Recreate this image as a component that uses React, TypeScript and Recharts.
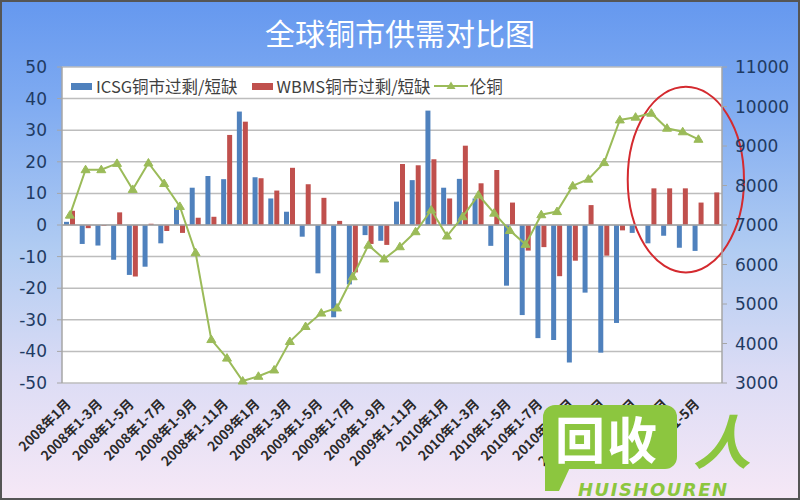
import React from "react";
import {
  ComposedChart,
  Bar,
  Line,
  XAxis,
  YAxis,
  CartesianGrid,
  ReferenceLine,
  ReferenceArea,
} from "recharts";

const categories = [
  "2008年1月", "2008年1-2月", "2008年1-3月", "2008年1-4月", "2008年1-5月", "2008年1-6月",
  "2008年1-7月", "2008年1-8月", "2008年1-9月", "2008年1-10月", "2008年1-11月", "2008年1-12月",
  "2009年1月", "2009年1-2月", "2009年1-3月", "2009年1-4月", "2009年1-5月", "2009年1-6月",
  "2009年1-7月", "2009年1-8月", "2009年1-9月", "2009年1-10月", "2009年1-11月", "2009年1-12月",
  "2010年1月", "2010年1-2月", "2010年1-3月", "2010年1-4月", "2010年1-5月", "2010年1-6月",
  "2010年1-7月", "2010年1-8月", "2010年1-9月", "2010年1-10月", "2010年1-11月", "2010年1-12月",
  "2011年1月", "2011年1-2月", "2011年1-3月", "2011年1-4月", "2011年1-5月", "2011年1-6月",
];

// ICSG 铜市过剩/短缺 (万吨)
const icsg = [
  1, -6, -6.5, -11, -15.8, -13.2, -5.8, 5.5, 11.8, 15.5, 14.5, 35.9,
  15.1, 8.4, 4.2, -3.7, -15.3, -29.2, -18.8, -3.2, -5, 7.4, 14.2, 36.2,
  11.8, 14.6, 8.4, -6.6, -19.2, -28.5, -35.8, -36.4, -43.5, -21.4, -40.4, -31,
  -2.5, -5.8, -3.4, -7.2, -8.2, null,
];

// WBMS 铜市过剩/短缺 (万吨)
const wbms = [
  4.5, -1, -0.3, 4, -16.3, 0.4, -1.9, -2.5, 2.3, 2.6, 28.5, 32.7,
  14.8, 10.9, 18.1, 12.9, 8.6, 1.3, -15, -6, -6.3, 19.3, 18.9, 20.8,
  8.4, 25.1, 13.2, 17.4, 7.1, -8.1, -7, -16.2, -11.3, 6.3, -9.7, -1.7,
  null, 11.6, 11.6, 11.6, 7.1, 10.3,
];

// 伦铜 (美元/吨)
const lme = [
  7250, 8400, 8400, 8560, 7900, 8570, 8050, 7470, 6300, 4100, 3630, 3050,
  3170, 3330, 4050, 4430, 4770, 4900, 5690, 6490, 6140, 6450, 6830, 7380,
  6720, 7210, 7760, 7300, 6860, 6510, 7260, 7340, 7990, 8160, 8580, 9660,
  9730, 9830, 9450, 9360, 9170, null,
];

const leftTicks = [-50, -40, -30, -20, -10, 0, 10, 20, 30, 40, 50];
const rightTicks = [3000, 4000, 5000, 6000, 7000, 8000, 9000, 10000, 11000];

const data = categories.map((cat, i) => ({
  cat,
  icsg: icsg[i],
  wbms: wbms[i],
  lme: lme[i],
}));

const BLUE = "#4f81bd";
const RED = "#c0504d";
const GREEN = "#9bbb59";
const LOGO_GREEN = "#8cc63f";
const AXIS_TEXT = "#1f3b63";
const CJK = "'Noto Sans CJK SC', 'Noto Sans', sans-serif";

const XTick = (props: any) => {
  const { x, payload } = props;
  return (
    <g transform={`translate(${x + 2},${405})`}>
      <text
        textAnchor="end"
        transform="rotate(-45)"
        fontSize={13.5}
        fontWeight="bold"
        fill="#2a2a2a"
        fontFamily={CJK}
      >
        {payload.value}
      </text>
    </g>
  );
};

const Triangle = (props: any) => {
  const { cx, cy, index } = props;
  if (cx == null || cy == null) return <g key={index} />;
  return (
    <path
      key={index}
      d={`M${cx},${cy - 4.5} L${cx + 4.5},${cy + 3} L${cx - 4.5},${cy + 3} Z`}
      fill={GREEN}
      stroke={GREEN}
    />
  );
};

const Ellipse = (props: any) => {
  const { x, y, width, height } = props;
  const w = width + 22;
  return (
    <ellipse
      cx={x + w / 2}
      cy={y + height / 2}
      rx={w / 2}
      ry={height / 2}
      fill="none"
      stroke="#d42a2f"
      strokeWidth={2}
    />
  );
};

function LegendBox() {
  return (
    <div
      style={{
        position: "absolute",
        top: 75,
        left: 71,
        display: "flex",
        alignItems: "center",
        fontFamily: CJK,
        fontSize: 16.5,
        color: "#404040",
        lineHeight: "22px",
      }}
    >
      <span style={{ width: 21, height: 7, background: BLUE, marginRight: 4 }} />
      <span style={{ marginRight: 14 }}>ICSG铜市过剩/短缺</span>
      <span style={{ width: 21, height: 7, background: RED, marginRight: 4 }} />
      <span style={{ marginRight: 3 }}>WBMS铜市过剩/短缺</span>
      <svg width={34} height={12} style={{ marginRight: 2 }}>
        <line x1={0} y1={6} x2={34} y2={6} stroke={GREEN} strokeWidth={2} />
        <path d="M17,1.5 L21.5,9 L12.5,9 Z" fill={GREEN} />
      </svg>
      <span>伦铜</span>
    </div>
  );
}

function Logo() {
  return (
    <div style={{ position: "absolute", left: 543, top: 405, width: 220, height: 95 }}>
      <div
        style={{
          position: "absolute",
          left: 0,
          top: 0,
          width: 134,
          height: 64,
          background: LOGO_GREEN,
          borderRadius: 12,
        }}
      />
      <div
        style={{
          position: "absolute",
          left: 2,
          top: 56,
          width: 0,
          height: 0,
          borderLeft: `14px solid ${LOGO_GREEN}`,
          borderRight: "14px solid transparent",
          borderTop: `30px solid ${LOGO_GREEN}`,
        }}
      />
      <div
        style={{
          position: "absolute",
          left: 12,
          top: 2,
          fontFamily: CJK,
          fontWeight: "bold",
          fontSize: 50,
          lineHeight: "60px",
          color: "#fff",
          letterSpacing: 2,
        }}
      >
        回收
      </div>
      <div
        style={{
          position: "absolute",
          left: 150,
          top: 6,
          fontFamily: CJK,
          fontWeight: "bold",
          fontSize: 58,
          lineHeight: "56px",
          height: 56,
          color: LOGO_GREEN,
          fontStyle: "italic",
        }}
      >
        人
      </div>
      <div
        style={{
          position: "absolute",
          left: 35,
          top: 75,
          fontFamily: "'DejaVu Sans', sans-serif",
          fontWeight: "bold",
          fontStyle: "italic",
          fontSize: 18,
          lineHeight: "20px",
          letterSpacing: 1.5,
          color: LOGO_GREEN,
        }}
      >
        HUISHOUREN
      </div>
    </div>
  );
}

export default function App() {
  return (
    <div
      style={{
        position: "relative",
        width: 800,
        height: 500,
        overflow: "hidden",
        background:
          "linear-gradient(180deg, #6598ef 0%, #7eaaf1 20%, #b1ccf2 50%, #dcdcf5 75%, #f6e8f6 100%)",
      }}
    >
      <style>{`body{margin:0}`}</style>
      <div
        style={{
          position: "absolute",
          top: 13,
          left: 0,
          width: 800,
          textAlign: "center",
          fontFamily: CJK,
          fontSize: 30,
          lineHeight: "38px",
          color: "#ffffff",
        }}
      >
        全球铜市供需对比图
      </div>
      <ComposedChart
        width={800}
        height={500}
        data={data}
        margin={{ top: 67, right: 0, bottom: 0, left: 0 }}
        barSize={5}
        barGap={1}
        style={{ position: "absolute", top: 0, left: 0 }}
      >
        <CartesianGrid
          yAxisId="l"
          vertical={false}
          stroke="#bdbdbd"
          strokeWidth={1.5}
          fill="#ffffff"
          fillOpacity={1}
        />
        <XAxis
          dataKey="cat"
          height={117}
          interval={1}
          tick={<XTick />}
          axisLine={false}
          tickLine={false}
        />
        <YAxis
          yAxisId="l"
          width={62}
          domain={[-50, 50]}
          ticks={leftTicks}
          interval={0}
          tick={{ fill: AXIS_TEXT, fontSize: 17, fontFamily: "'DejaVu Sans', sans-serif" }}
          tickMargin={10}
          axisLine={{ stroke: "#a6a6a6", strokeWidth: 1.5 }}
          tickLine={{ stroke: "#a6a6a6" }}
          tickSize={5}
        />
        <YAxis
          yAxisId="r"
          orientation="right"
          width={78}
          domain={[3000, 11000]}
          ticks={rightTicks}
          interval={0}
          tick={{ fill: AXIS_TEXT, fontSize: 17, fontFamily: "'DejaVu Sans', sans-serif" }}
          tickMargin={8}
          axisLine={{ stroke: "#a6a6a6", strokeWidth: 1.5 }}
          tickLine={{ stroke: "#a6a6a6" }}
          tickSize={5}
        />
        <ReferenceLine yAxisId="l" y={0} stroke="#a6a6a6" strokeWidth={1.5} />
        <Bar yAxisId="l" dataKey="icsg" fill={BLUE} isAnimationActive={false} />
        <Bar yAxisId="l" dataKey="wbms" fill={RED} isAnimationActive={false} />
        <Line
          yAxisId="r"
          dataKey="lme"
          stroke={GREEN}
          strokeWidth={2}
          dot={<Triangle />}
          activeDot={false}
          isAnimationActive={false}
        />
        <ReferenceArea
          yAxisId="r"
          x1={categories[36]}
          x2={categories[41]}
          y1={5800}
          y2={10500}
          ifOverflow="visible"
          shape={<Ellipse />}
        />
      </ComposedChart>
      <LegendBox />
      <Logo />
      <div
        style={{
          position: "absolute",
          inset: 0,
          border: "2px solid #555",
          pointerEvents: "none",
        }}
      />
    </div>
  );
}
